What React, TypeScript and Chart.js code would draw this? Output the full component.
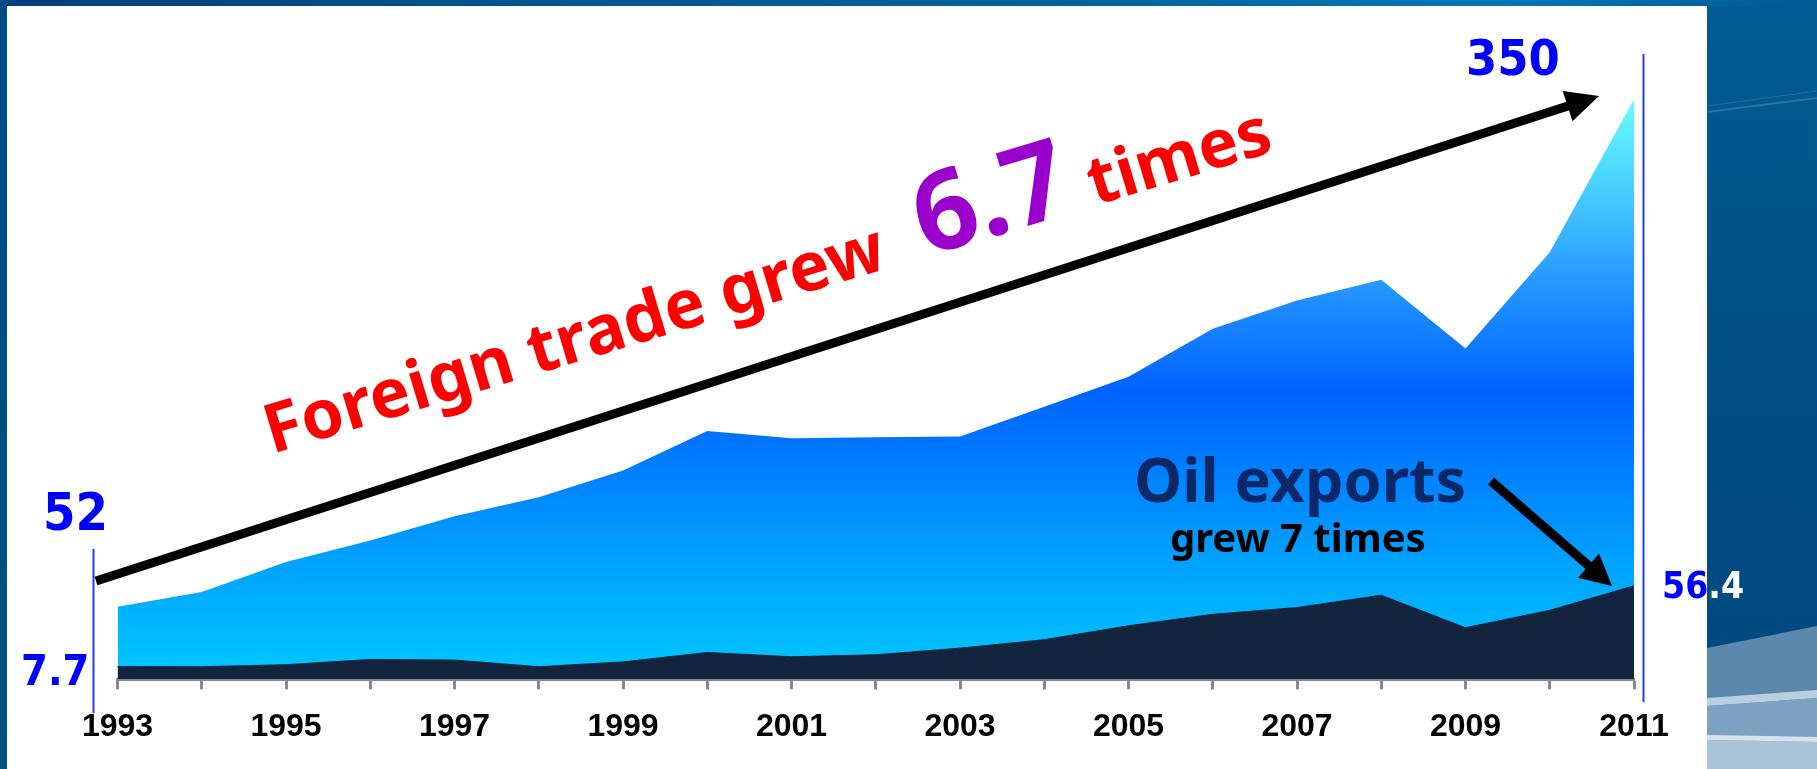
import React, { useEffect, useRef } from 'react';
import { Chart, registerables } from 'chart.js';

Chart.register(...registerables);

const years = ['1993', '1994', '1995', '1996', '1997', '1998', '1999', '2000', '2001', '2002', '2003', '2004', '2005', '2006', '2007', '2008', '2009', '2010', '2011'];
const shownYears = ['1993', '1995', '1997', '1999', '2001', '2003', '2005', '2007', '2009', '2011'];
const foreignTrade = [43.7, 52.7, 70.7, 83.7, 98.4, 109.8, 126.0, 149.8, 145.4, 146.0, 146.5, 164.5, 182.5, 211.5, 228.5, 241.0, 199.5, 257.6, 350.0];
const oilExports = [7.7, 7.6, 8.8, 12.0, 11.6, 7.6, 10.5, 16.2, 13.6, 14.8, 18.8, 23.9, 32.3, 39.2, 43.3, 50.7, 31.1, 41.6, 56.4];
const tradeStartLabel = '52';
const tradeEndLabel = '350';
const oilStartLabel = '7.7';
const oilEndLabel = ['56', '.4'];
const headline = ['Foreign trade grew', '6.7', 'times'];
const oilCaption = ['Oil exports', 'grew 7 times'];

const W = 1817;
const H = 769;

function drawArrow(ctx: CanvasRenderingContext2D, x1: number, y1: number, x2: number, y2: number, w: number, headLen: number, headHalf: number) {
  const a = Math.atan2(y2 - y1, x2 - x1);
  const bx = x2 - headLen * Math.cos(a);
  const by = y2 - headLen * Math.sin(a);
  ctx.strokeStyle = '#000';
  ctx.fillStyle = '#000';
  ctx.lineWidth = w;
  ctx.lineCap = 'butt';
  ctx.beginPath();
  ctx.moveTo(x1, y1);
  ctx.lineTo(bx + Math.cos(a) * 2, by + Math.sin(a) * 2);
  ctx.stroke();
  ctx.beginPath();
  ctx.moveTo(x2, y2);
  ctx.lineTo(bx + headHalf * Math.sin(a), by - headHalf * Math.cos(a));
  ctx.lineTo(bx - headHalf * Math.sin(a), by + headHalf * Math.cos(a));
  ctx.closePath();
  ctx.fill();
}

const annotations = {
  id: 'annotations',
  afterDraw(chart: any) {
    const ctx: CanvasRenderingContext2D = chart.ctx;
    ctx.save();
    // vertical blue marker lines
    ctx.strokeStyle = '#1f3cff';
    ctx.lineWidth = 2;
    ctx.beginPath();
    ctx.moveTo(93.5, 549);
    ctx.lineTo(93.5, 713);
    ctx.moveTo(1643.5, 54);
    ctx.lineTo(1643.5, 702);
    ctx.stroke();

    // arrows
    drawArrow(ctx, 96, 581, 1599, 96, 9, 33, 16);
    drawArrow(ctx, 1491, 481, 1612, 586, 9, 31, 16);

    // blue value labels
    ctx.textBaseline = 'alphabetic';
    ctx.textAlign = 'left';
    ctx.fillStyle = '#0000ff';
    ctx.font = 'bold 52px "DejaVu Sans Condensed", "DejaVu Sans", sans-serif';
    ctx.fillText(tradeStartLabel, 43, 530);
    ctx.font = 'bold 50px "DejaVu Sans Condensed", "DejaVu Sans", sans-serif';
    ctx.fillText(tradeEndLabel, 1466, 75);
    ctx.font = 'bold 43px "DejaVu Sans Condensed", "DejaVu Sans", sans-serif';
    ctx.fillText(oilStartLabel, 21, 685);
    ctx.font = 'bold 37px "DejaVu Sans Condensed", "DejaVu Sans", sans-serif';
    ctx.fillText(oilEndLabel[0], 1662, 598);
    const w56 = ctx.measureText(oilEndLabel[0]).width;
    ctx.fillStyle = '#ffffff';
    ctx.fillText(oilEndLabel[1], 1662 + w56, 598);

    // headline along the arrow
    ctx.save();
    ctx.translate(272, 454);
    ctx.rotate(-16.8 * Math.PI / 180);
    ctx.font = 'bold 68px "Noto Sans", sans-serif';
    ctx.fillStyle = '#ff0000';
    ctx.fillText(headline[0], 0, 0);
    ctx.font = 'bold 110px "Noto Sans", sans-serif';
    ctx.fillStyle = '#9900cc';
    ctx.fillText(headline[1], 683, 0);
    ctx.font = 'bold 67px "Noto Sans", sans-serif';
    ctx.fillStyle = '#ff0000';
    ctx.fillText(headline[2], 860, 0);
    ctx.restore();

    // oil caption
    ctx.fillStyle = '#0a2768';
    ctx.font = 'bold 61px "Noto Sans", sans-serif';
    ctx.fillText(oilCaption[0], 1134, 502);
    ctx.fillStyle = '#000000';
    ctx.font = 'bold 40px "Noto Sans", sans-serif';
    ctx.fillText(oilCaption[1], 1170, 552);
    ctx.restore();
  },
};

export default function App() {
  const ref = useRef<HTMLCanvasElement>(null);
  useEffect(() => {
    const canvas = ref.current;
    if (!canvas) return;
    const tradeMax = Math.max(...foreignTrade);
    const chart = new Chart(canvas, {
      type: 'line',
      data: {
        labels: years,
        datasets: [
          {
            label: 'Oil exports',
            data: oilExports,
            fill: 'origin',
            backgroundColor: '#13243e',
            borderColor: '#13243e',
            borderWidth: 1,
            pointRadius: 0,
            tension: 0,
            order: 0,
          },
          {
            label: 'Foreign trade',
            data: foreignTrade,
            fill: 'origin',
            borderColor: 'rgba(0,0,0,0)',
            borderWidth: 1,
            pointRadius: 0,
            tension: 0,
            order: 1,
            backgroundColor: (c: any) => {
              const ch = c.chart;
              if (!ch.chartArea) return '#0088ff';
              const ys = ch.scales.y;
              const top = ys.getPixelForValue(tradeMax);
              const bottom = ys.getPixelForValue(0);
              const g = ch.ctx.createLinearGradient(0, top, 0, bottom);
              g.addColorStop(0, '#66ffff');
              g.addColorStop(0.15, '#48d0ff');
              g.addColorStop(0.3, '#2a9cff');
              g.addColorStop(0.5, '#0062ff');
              g.addColorStop(0.65, '#0082ff');
              g.addColorStop(0.8, '#00a2ff');
              g.addColorStop(1, '#00c8ff');
              return g;
            },
          },
        ],
      },
      options: {
        responsive: false,
        animation: false,
        devicePixelRatio: 1,
        events: [],
        layout: { padding: { left: 117.5, right: 183, top: 66, bottom: 4.3 } },
        plugins: { legend: { display: false }, tooltip: { enabled: false } },
        scales: {
          x: {
            type: 'category',
            offset: false,
            z: 1,
            grid: { display: true, drawOnChartArea: false, drawTicks: true, tickLength: 10, tickWidth: 3, tickColor: '#8a8a8a' },
            border: { display: true, color: '#8a8a8a', width: 3 },
            ticks: {
              autoSkip: false,
              maxRotation: 0,
              minRotation: 0,
              padding: 18.5,
              color: '#000000',
              font: { family: '"Liberation Sans", Arial, sans-serif', size: 32, weight: 'bold' },
              callback: (_v: any, i: number) => (shownYears.includes(years[i]) ? years[i] : ''),
            },
          },
          y: { display: false, min: 0, max: 370 },
        },
      },
      plugins: [annotations],
    } as any);
    return () => chart.destroy();
  }, []);

  return (
    <div style={{ position: 'fixed', left: 0, top: 0, width: W, height: H, overflow: 'hidden' }}>
      <svg width={W} height={H} style={{ position: 'absolute', left: 0, top: 0 }}>
        <defs>
          <linearGradient id="topg" x1="0" y1="0" x2="1" y2="0">
            <stop offset="0" stopColor="#003e7c" />
            <stop offset="0.3" stopColor="#00568c" />
            <stop offset="0.6" stopColor="#00639c" />
            <stop offset="0.82" stopColor="#0078b8" />
            <stop offset="1" stopColor="#005a94" />
          </linearGradient>
          <linearGradient id="rightg" x1="0" y1="0" x2="0" y2="1">
            <stop offset="0" stopColor="#005c93" />
            <stop offset="0.5" stopColor="#004e86" />
            <stop offset="0.85" stopColor="#004a80" />
          </linearGradient>
          <linearGradient id="leftg" x1="0" y1="0" x2="0" y2="1">
            <stop offset="0" stopColor="#004a86" />
            <stop offset="1" stopColor="#00547f" />
          </linearGradient>
        </defs>
        <rect x={0} y={0} width={W} height={H} fill="url(#rightg)" />
        <line x1={1707} y1={112} x2={1817} y2={98} stroke="rgba(110,170,215,0.35)" strokeWidth={2} />
        <line x1={1707} y1={106} x2={1817} y2={91} stroke="rgba(110,170,215,0.25)" strokeWidth={1} />
        <polygon points="1707,648 1817,626 1817,769 1707,769" fill="#5d88ad" />
        <polygon points="1707,698 1817,690 1817,698 1707,706" fill="#b9cfe0" />
        <polygon points="1707,706 1817,698 1817,769 1707,769" fill="#7ea3c2" />
        <polygon points="1707,735 1817,737 1817,742 1707,740" fill="#d6e3ee" />
        <polygon points="1707,740 1817,742 1817,769 1707,769" fill="#a9c3d8" />
        <rect x={0} y={0} width={W} height={6} fill="url(#topg)" />
        <rect x={0} y={0} width={7} height={H} fill="url(#leftg)" />
        <rect x={7} y={6} width={1700} height={H - 6} fill="#ffffff" />
      </svg>
      <canvas ref={ref} width={W} height={H} style={{ position: 'absolute', left: 0, top: 0 }} />
    </div>
  );
}
